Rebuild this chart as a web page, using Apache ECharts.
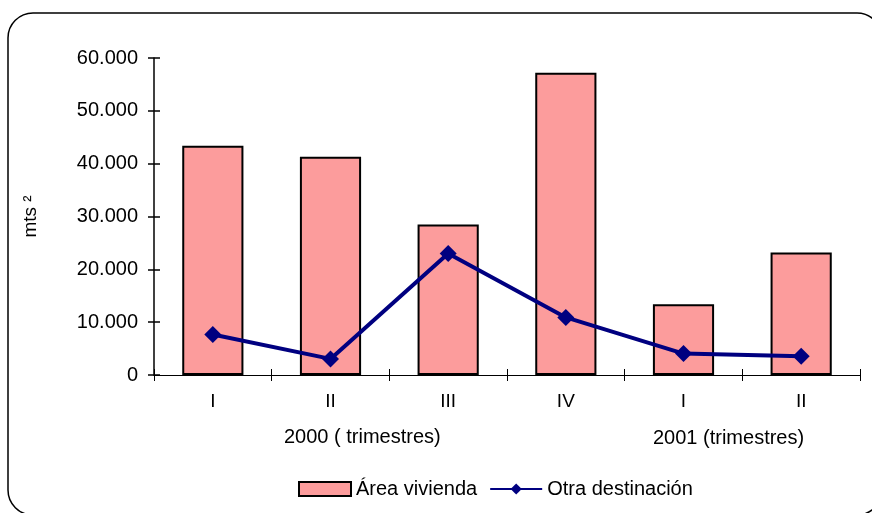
<!DOCTYPE html>
<html>
<head>
<meta charset="utf-8">
<script src="https://cdn.jsdelivr.net/npm/echarts@6/dist/echarts.min.js"></script>
<style>
  html, body { margin: 0; padding: 0; background: #fff; }
  #chart { width: 872px; height: 513px; }
</style>
</head>
<body>
<div id="chart"></div>
<script>
// datos
const trimestres = ['I', 'II', 'III', 'IV', 'I', 'II']
const areaVivienda = [43400, 41300, 28500, 57200, 13400, 23200]
const otraDestinacion = [7650, 3050, 23000, 10900, 4050, 3550]
const yTicks = [0, 10000, 20000, 30000, 40000, 50000, 60000]

const FONT = 'Liberation Sans, Arial, sans-serif'
const PINK = '#fc9c9c'

const chart = echarts.init(document.getElementById('chart'), null, { renderer: 'canvas' })

const yMax = yTicks[yTicks.length - 1]

chart.setOption({
  animation: false,
  backgroundColor: '#fff',
  textStyle: { fontFamily: FONT },
  grid: { left: 154, right: 12, top: 58, bottom: 138 },
  graphic: [
    {
      type: 'rect',
      shape: { x: 8, y: 13, width: 874, height: 502, r: 25 },
      style: { fill: 'none', stroke: '#000', lineWidth: 1.5 },
      silent: true
    },
    {
      type: 'text', left: 284, top: 427,
      style: { text: '2000 ( trimestres)', font: '20px ' + FONT, fill: '#000' }
    },
    {
      type: 'text', left: 653, top: 428,
      style: { text: '2001 (trimestres)', font: '20px ' + FONT, fill: '#000' }
    }
  ],
  legend: {
    bottom: 9,
    left: 293,
    itemWidth: 52,
    itemHeight: 14,
    itemGap: 12,
    textStyle: { fontSize: 20, color: '#000', fontFamily: FONT },
    data: [
      { name: 'Área vivienda', icon: 'rect' },
      { name: 'Otra destinación' }
    ]
  },
  xAxis: [
    {
      type: 'category',
      data: trimestres,
      position: 'bottom',
      axisLine: { lineStyle: { color: '#000', width: 1 } },
      axisTick: { show: true, length: 6, lineStyle: { color: '#000' } },
      axisLabel: { color: '#000', fontSize: 19, margin: 17, fontFamily: FONT }
    },
    {
      type: 'category',
      data: trimestres,
      position: 'bottom',
      axisLine: { show: false },
      axisTick: { show: true, inside: true, length: 6, lineStyle: { color: '#000' } },
      axisLabel: { show: false }
    }
  ],
  yAxis: [
    {
      type: 'value',
      min: 0,
      max: yMax,
      interval: 10000,
      name: 'mts ²',
      nameLocation: 'middle',
      nameGap: 114,
      nameRotate: 90,
      nameTextStyle: { fontSize: 19, color: '#000', fontFamily: FONT },
      splitLine: { show: false },
      axisLine: { show: true, lineStyle: { color: '#000', width: 1.5 } },
      axisTick: { show: true, length: 6, lineStyle: { color: '#000', width: 1.5 } },
      axisLabel: {
        color: '#000', fontSize: 20, margin: 16, fontFamily: FONT,
        formatter: v => v === 0 ? '0' : (v / 1000) + '.000'
      }
    },
    {
      type: 'value',
      min: 0,
      max: yMax,
      interval: 10000,
      position: 'left',
      splitLine: { show: false },
      axisLine: { show: false },
      axisTick: { show: true, inside: true, length: 6, lineStyle: { color: '#000', width: 1.5 } },
      axisLabel: { show: false }
    }
  ],
  series: [
    {
      name: 'Área vivienda',
      type: 'bar',
      data: areaVivienda,
      barWidth: '52%',
      itemStyle: { color: PINK, borderColor: '#000', borderWidth: 2 }
    },
    {
      name: 'Otra destinación',
      type: 'line',
      data: otraDestinacion,
      symbol: 'diamond',
      symbolSize: 17,
      lineStyle: { color: '#000080', width: 4 },
      itemStyle: { color: '#000080' }
    }
  ]
})
</script>
</body>
</html>
